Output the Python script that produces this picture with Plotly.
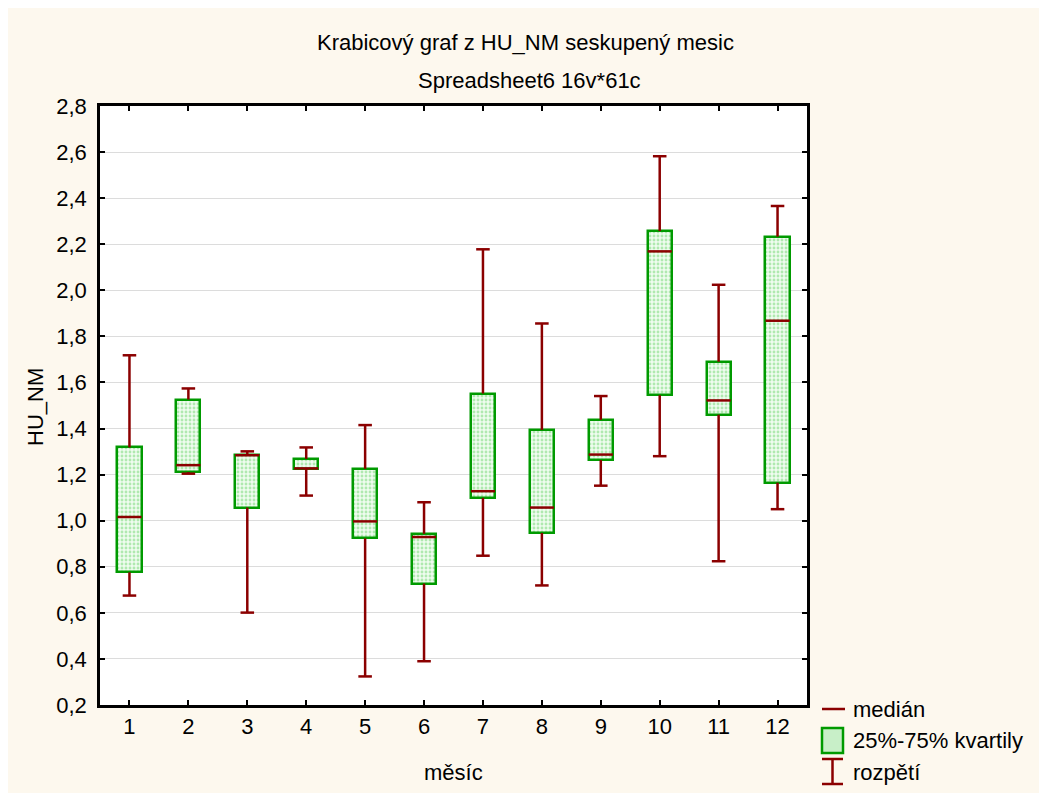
import plotly.graph_objects as go

# ---------------- data ----------------
months = [1, 2, 3, 4, 5, 6, 7, 8, 9, 10, 11, 12]
whisker_low = [0.675, 1.204, 0.601, 1.109, 0.324, 0.390, 0.848, 0.719, 1.152, 1.280, 0.824, 1.050]
q1 = [0.776, 1.211, 1.057, 1.225, 0.923, 0.727, 1.099, 0.947, 1.263, 1.545, 1.460, 1.165]
median = [1.016, 1.241, 1.284, 1.227, 0.997, 0.929, 1.128, 1.057, 1.287, 2.169, 1.522, 1.868]
q3 = [1.318, 1.526, 1.284, 1.268, 1.225, 0.943, 1.552, 1.394, 1.438, 2.257, 1.690, 2.233]
whisker_high = [1.718, 1.574, 1.301, 1.318, 1.415, 1.080, 2.178, 1.856, 1.541, 2.582, 2.024, 2.366]
y_ticks = [0.2, 0.4, 0.6, 0.8, 1.0, 1.2, 1.4, 1.6, 1.8, 2.0, 2.2, 2.4, 2.6, 2.8]

title1 = "Krabicový graf z HU_NM seskupený mesic"
title2 = "Spreadsheet6 16v*61c"
x_title = "měsíc"
y_title = "HU_NM"
legend_labels = ["medián", "25%-75% kvartily", "rozpětí"]

# ---------------- style ----------------
W, H = 1047, 793
ML, MR, MT, MB = 92, 248, 98, 96
PW, PH = W - ML - MR, H - MT - MB
CREAM = "#fdf8ee"
RED = "#8b0000"
GREEN = "#009a00"
FONT = "Liberation Sans, Arial, sans-serif"
FS = 22
BOX_W = 0.41
CAP_HALF = 0.115


def px(xp):
    return (xp - ML) / PW


def py(yp):
    return (H - MB - yp) / PH


fig = go.Figure()

# boxes (interquartile range)
fig.add_trace(go.Bar(
    x=months,
    y=[b - a for a, b in zip(q1, q3)],
    base=q1,
    width=BOX_W,
    marker=dict(
        color="#eefbee",
        line=dict(color=GREEN, width=2.5),
        pattern=dict(shape=".", fgcolor="#6fd66f", bgcolor="#effcef", size=4, solidity=0.4),
    ),
    showlegend=False,
    hoverinfo="skip",
))

# whiskers and caps
wx, wy = [], []
for m, lo, a, b, hi in zip(months, whisker_low, q1, q3, whisker_high):
    wx += [m, m, None, m, m, None,
           m - CAP_HALF, m + CAP_HALF, None, m - CAP_HALF, m + CAP_HALF, None]
    wy += [lo, a, None, b, hi, None, lo, lo, None, hi, hi, None]
fig.add_trace(go.Scatter(x=wx, y=wy, mode="lines",
                         line=dict(color=RED, width=2.5),
                         showlegend=False, hoverinfo="skip"))

# medians
mx, my = [], []
for m, md in zip(months, median):
    mx += [m - BOX_W / 2, m + BOX_W / 2, None]
    my += [md, md, None]
fig.add_trace(go.Scatter(x=mx, y=my, mode="lines",
                         line=dict(color=RED, width=2.5),
                         showlegend=False, hoverinfo="skip"))

shapes = []
# manual legend
shapes.append(dict(type="line", xref="paper", yref="paper", x0=px(814), x1=px(837), y0=py(701), y1=py(701),
                   line=dict(color=RED, width=2.5)))
shapes.append(dict(type="rect", xref="paper", yref="paper", x0=px(814), x1=px(835), y0=py(745), y1=py(720),
                   fillcolor="#c8efc8", line=dict(color=GREEN, width=2.5)))
shapes.append(dict(type="line", xref="paper", yref="paper", x0=px(824.5), x1=px(824.5), y0=py(776), y1=py(751),
                   line=dict(color=RED, width=2.5)))
shapes.append(dict(type="line", xref="paper", yref="paper", x0=px(814), x1=px(835), y0=py(751), y1=py(751),
                   line=dict(color=RED, width=2.5)))
shapes.append(dict(type="line", xref="paper", yref="paper", x0=px(814), x1=px(835), y0=py(776), y1=py(776),
                   line=dict(color=RED, width=2.5)))

annotations = []
for label, yy in zip(legend_labels, [701, 732, 764]):
    annotations.append(dict(text=label, xref="paper", yref="paper", x=px(843), y=py(yy),
                            xanchor="left", yanchor="middle", showarrow=False,
                            font=dict(size=FS, family=FONT, color="black")))
annotations.append(dict(text=title1, xref="paper", yref="paper", x=px(517), y=py(35),
                        xanchor="center", yanchor="middle", showarrow=False,
                        font=dict(size=FS, family=FONT, color="black")))
annotations.append(dict(text=title2, xref="paper", yref="paper", x=px(521), y=py(73),
                        xanchor="center", yanchor="middle", showarrow=False,
                        font=dict(size=FS, family=FONT, color="black")))
annotations.append(dict(text=x_title, xref="paper", yref="paper", x=px(445), y=py(764),
                        xanchor="center", yanchor="middle", showarrow=False,
                        font=dict(size=FS, family=FONT, color="black")))
annotations.append(dict(text=y_title, xref="paper", yref="paper", x=px(27), y=py(399),
                        xanchor="center", yanchor="middle", showarrow=False, textangle=-90,
                        font=dict(size=FS, family=FONT, color="black")))

fig.update_layout(
    width=W, height=H,
    margin=dict(l=ML, r=MR, t=MT, b=MB, pad=0),
    paper_bgcolor=CREAM,
    plot_bgcolor="white",
    separators=", ",
    font=dict(family=FONT, size=FS, color="black"),
    showlegend=False,
    shapes=shapes,
    annotations=annotations,
    bargap=0,
)
fig.update_xaxes(
    range=[0.5, 12.5], tickvals=months, ticktext=[str(m) for m in months],
    showgrid=False, zeroline=False,
    ticks="inside", ticklen=5, tickwidth=2, tickcolor="black",
    showline=True, linewidth=2.5, linecolor="black", mirror="ticks",
    tickfont=dict(size=FS, family=FONT, color="black"),
)
fig.update_yaxes(
    range=[0.2, 2.8], tickvals=y_ticks, tickformat=".1f",
    showgrid=True, gridcolor="#dcdcdc", gridwidth=1, zeroline=False,
    ticks="inside", ticklen=5, tickwidth=2, tickcolor="black",
    showline=True, linewidth=2.5, linecolor="black", mirror="ticks",
    ticklabelstandoff=6,
    tickfont=dict(size=FS, family=FONT, color="black"),
)

fig.write_html("out.html")
